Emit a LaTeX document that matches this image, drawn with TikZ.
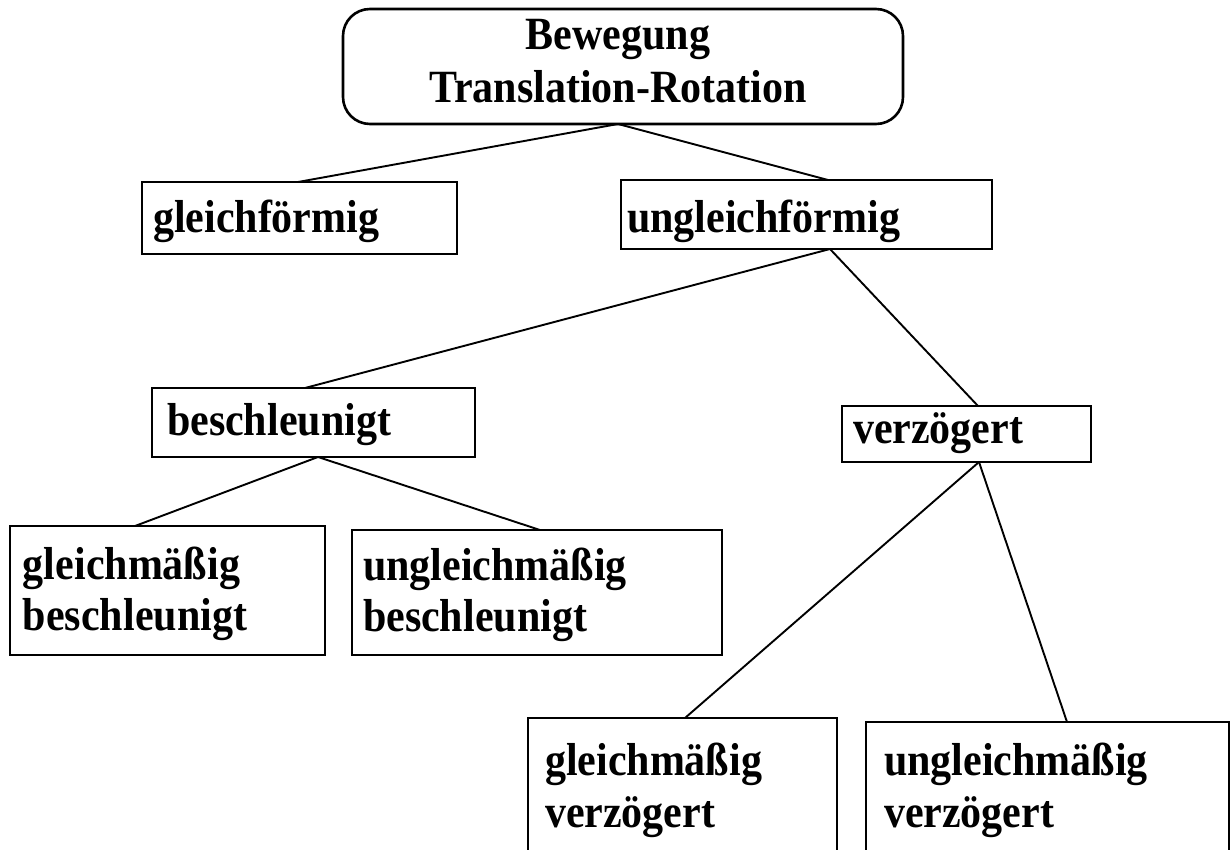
\documentclass[tikz,border=0pt]{standalone}
\usepackage{graphicx}
\usepackage{fontspec}
\setmainfont{Liberation Serif}
\newcommand\vstretch[1]{\scalebox{1}[1.1]{#1}}
\begin{document}
\begin{tikzpicture}[x=1pt,y=-1pt,
  box/.style={draw, line width=2.6pt, rectangle, outer sep=0pt, inner sep=0pt},
  topbox/.style={box, rounded corners=27pt},
  conn/.style={line width=1.9pt},
  txt/.style={inner sep=0pt, outer sep=0pt, font=\fontsize{42}{46.4}\selectfont\bfseries}
]
\useasboundingbox (0,0) rectangle (1231,850);
\clip (0,0) rectangle (1231,850);
\fill[white] (0,0) rectangle (1231,850);

% boxes
\node[topbox, minimum width=560, minimum height=115, anchor=north west] (top) at (343,9) {};
\node[box, minimum width=315, minimum height=72, anchor=north west] (gf) at (142,182) {};
\node[box, minimum width=371, minimum height=69, anchor=north west] (ugf) at (621,180) {};
\node[box, minimum width=323, minimum height=69, anchor=north west] (bes) at (152,388) {};
\node[box, minimum width=249, minimum height=56, anchor=north west] (verz) at (842,406) {};
\node[box, minimum width=315, minimum height=129, anchor=north west] (gmb) at (10,526) {};
\node[box, minimum width=370, minimum height=125, anchor=north west] (ugmb) at (352,530) {};
\node[box, minimum width=309, minimum height=162, anchor=north west] (gmv) at (528,718) {};
\node[box, minimum width=363, minimum height=158, anchor=north west] (ugmv) at (866,722) {};

% texts
\node[txt, anchor=base] (top-t) at (618,50) {\vstretch{\begin{tabular}[t]{@{}c@{}}Bewegung\\[1pt]Translation-Rotation\end{tabular}}};
\node[txt, anchor=base west] (gf-t) at (153,233) {\vstretch{gleichförmig}};
\node[txt, anchor=base west] (ugf-t) at (627,233) {\vstretch{ungleichförmig}};
\node[txt, anchor=base west] (bes-t) at (167,435) {\vstretch{beschleunigt}};
\node[txt, anchor=base west] (verz-t) at (853,443) {\vstretch{verzögert}};
\node[txt, anchor=base west] (gmb-t) at (23,579) {\vstretch{\begin{tabular}[t]{@{}l@{}}gleichmäßig\\beschleunigt\end{tabular}}};
\node[txt, anchor=base west] (ugmb-t) at (363,580) {\vstretch{\begin{tabular}[t]{@{}l@{}}ungleichmäßig\\beschleunigt\end{tabular}}};
\node[txt, anchor=base west] (gmv-t) at (545,775) {\vstretch{\begin{tabular}[t]{@{}l@{}}gleichmäßig\\[1pt]verzögert\end{tabular}}};
\node[txt, anchor=base west] (ugmv-t) at (884,775) {\vstretch{\begin{tabular}[t]{@{}l@{}}ungleichmäßig\\[1pt]verzögert\end{tabular}}};

% connectors
\draw[conn] ([xshift=-5]top.south) -- ([xshift=156]gf.north west);
\draw[conn] ([xshift=-5]top.south) -- ([xshift=207]ugf.north west);
\draw[conn] ([xshift=209]ugf.south west) -- ([xshift=153]bes.north west);
\draw[conn] ([xshift=209]ugf.south west) -- ([xshift=136]verz.north west);
\draw[conn] ([xshift=166]bes.south west) -- ([xshift=125]gmb.north west);
\draw[conn] ([xshift=166]bes.south west) -- ([xshift=188]ugmb.north west);
\draw[conn] ([xshift=137]verz.south west) -- ([xshift=157]gmv.north west);
\draw[conn] ([xshift=137]verz.south west) -- ([xshift=201]ugmv.north west);
\end{tikzpicture}
\end{document}
